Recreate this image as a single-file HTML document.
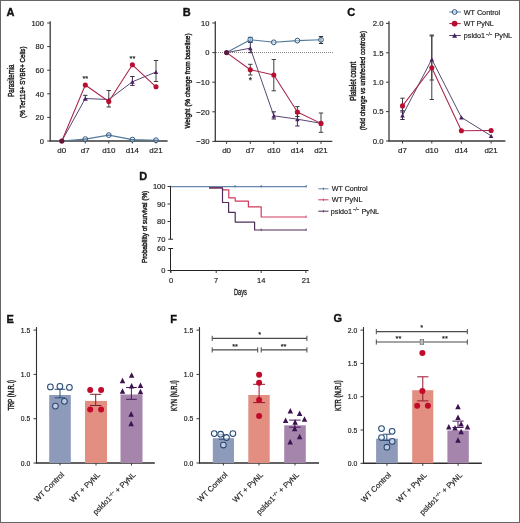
<!DOCTYPE html>
<html><head><meta charset="utf-8"><style>
html,body{margin:0;padding:0;background:#fff;}
body{width:520px;height:523px;overflow:hidden;position:relative;}
svg{display:block;font-family:"Liberation Sans", sans-serif;filter:blur(0.25px);}
.frame{position:absolute;left:0;top:0;width:518px;height:521px;border:1px solid #666;}
text{stroke:#1a1a1a;stroke-width:0.16px;}
</style></head><body>
<svg width="520" height="523" viewBox="0 0 520 523">
<rect x="0" y="0" width="520" height="523" fill="#fff"/>
<text x="6.6" y="15.8" font-size="11" text-anchor="start" font-weight="bold" fill="#111" style="stroke:#111;stroke-width:0.35px">A</text>
<line x1="50.2" y1="21.2" x2="50.2" y2="141.6" stroke="#3a3a3a" stroke-width="1.3" />
<line x1="49.6" y1="141" x2="167.6" y2="141" stroke="#3a3a3a" stroke-width="1.3" />
<line x1="47.2" y1="141.0" x2="50.2" y2="141.0" stroke="#3a3a3a" stroke-width="1" />
<text x="44" y="143.7" font-size="7.8" text-anchor="end" font-weight="normal" fill="#1a1a1a" textLength="4.2" lengthAdjust="spacingAndGlyphs" >0</text>
<line x1="47.2" y1="117.4" x2="50.2" y2="117.4" stroke="#3a3a3a" stroke-width="1" />
<text x="44" y="120.10000000000001" font-size="7.8" text-anchor="end" font-weight="normal" fill="#1a1a1a" textLength="8.4" lengthAdjust="spacingAndGlyphs" >20</text>
<line x1="47.2" y1="93.80000000000001" x2="50.2" y2="93.80000000000001" stroke="#3a3a3a" stroke-width="1" />
<text x="44" y="96.50000000000001" font-size="7.8" text-anchor="end" font-weight="normal" fill="#1a1a1a" textLength="8.4" lengthAdjust="spacingAndGlyphs" >40</text>
<line x1="47.2" y1="70.2" x2="50.2" y2="70.2" stroke="#3a3a3a" stroke-width="1" />
<text x="44" y="72.9" font-size="7.8" text-anchor="end" font-weight="normal" fill="#1a1a1a" textLength="8.4" lengthAdjust="spacingAndGlyphs" >60</text>
<line x1="47.2" y1="46.60000000000001" x2="50.2" y2="46.60000000000001" stroke="#3a3a3a" stroke-width="1" />
<text x="44" y="49.30000000000001" font-size="7.8" text-anchor="end" font-weight="normal" fill="#1a1a1a" textLength="8.4" lengthAdjust="spacingAndGlyphs" >80</text>
<line x1="47.2" y1="23.0" x2="50.2" y2="23.0" stroke="#3a3a3a" stroke-width="1" />
<text x="44" y="25.7" font-size="7.8" text-anchor="end" font-weight="normal" fill="#1a1a1a" textLength="12.600000000000001" lengthAdjust="spacingAndGlyphs" >100</text>
<line x1="61.8" y1="141" x2="61.8" y2="143.5" stroke="#3a3a3a" stroke-width="1" />
<text x="61.8" y="153.1" font-size="8" text-anchor="middle" font-weight="normal" fill="#1a1a1a" textLength="8.9" lengthAdjust="spacingAndGlyphs" >d0</text>
<line x1="85.3" y1="141" x2="85.3" y2="143.5" stroke="#3a3a3a" stroke-width="1" />
<text x="85.3" y="153.1" font-size="8" text-anchor="middle" font-weight="normal" fill="#1a1a1a" textLength="8.9" lengthAdjust="spacingAndGlyphs" >d7</text>
<line x1="108.8" y1="141" x2="108.8" y2="143.5" stroke="#3a3a3a" stroke-width="1" />
<text x="108.8" y="153.1" font-size="8" text-anchor="middle" font-weight="normal" fill="#1a1a1a" textLength="13.350000000000001" lengthAdjust="spacingAndGlyphs" >d10</text>
<line x1="132.4" y1="141" x2="132.4" y2="143.5" stroke="#3a3a3a" stroke-width="1" />
<text x="132.4" y="153.1" font-size="8" text-anchor="middle" font-weight="normal" fill="#1a1a1a" textLength="13.350000000000001" lengthAdjust="spacingAndGlyphs" >d14</text>
<line x1="156.0" y1="141" x2="156.0" y2="143.5" stroke="#3a3a3a" stroke-width="1" />
<text x="156.0" y="153.1" font-size="8" text-anchor="middle" font-weight="normal" fill="#1a1a1a" textLength="13.350000000000001" lengthAdjust="spacingAndGlyphs" >d21</text>
<text transform="translate(13.5,80.6) rotate(-90)" font-size="8.4" text-anchor="middle" fill="#1a1a1a" style="stroke:#1a1a1a;stroke-width:0.42px" textLength="32.2" lengthAdjust="spacingAndGlyphs">Parasitemia</text>
<text transform="translate(24.6,82.2) rotate(-90)" font-size="7.9" text-anchor="middle" fill="#1a1a1a" style="stroke:#1a1a1a;stroke-width:0.42px" textLength="71.5" lengthAdjust="spacingAndGlyphs">(% Ter119+ SYBR+ Cells)</text>
<polyline points="61.8,141 85.3,139.1 108.8,135.1 132.4,139.6 156.0,140.2" fill="none" stroke="#527a9a" stroke-width="1.1" stroke-linejoin="round"/>
<polyline points="61.8,141 85.3,98.5 108.8,99.5 132.4,81.8 156.0,72" fill="none" stroke="#584870" stroke-width="1.0" stroke-linejoin="round"/>
<polyline points="61.8,141 85.3,85 108.8,101.5 132.4,64.8 156.0,86.8" fill="none" stroke="#a8254a" stroke-width="1.05" stroke-linejoin="round"/>
<line x1="85.3" y1="95.3" x2="85.3" y2="100" stroke="#3a2a4a" stroke-width="1" />
<line x1="83.1" y1="95.3" x2="87.5" y2="95.3" stroke="#3a2a4a" stroke-width="1" />
<line x1="83.1" y1="100" x2="87.5" y2="100" stroke="#3a2a4a" stroke-width="1" />
<line x1="108.8" y1="90.5" x2="108.8" y2="107" stroke="#3e3e3e" stroke-width="1" />
<line x1="106.6" y1="90.5" x2="111.0" y2="90.5" stroke="#3e3e3e" stroke-width="1" />
<line x1="106.6" y1="107" x2="111.0" y2="107" stroke="#3e3e3e" stroke-width="1" />
<line x1="132.4" y1="76.5" x2="132.4" y2="85.4" stroke="#3a2a4a" stroke-width="1" />
<line x1="130.20000000000002" y1="76.5" x2="134.6" y2="76.5" stroke="#3a2a4a" stroke-width="1" />
<line x1="130.20000000000002" y1="85.4" x2="134.6" y2="85.4" stroke="#3a2a4a" stroke-width="1" />
<line x1="156.0" y1="60.5" x2="156.0" y2="81.5" stroke="#3e3e3e" stroke-width="1" />
<line x1="153.8" y1="60.5" x2="158.2" y2="60.5" stroke="#3e3e3e" stroke-width="1" />
<line x1="153.8" y1="81.5" x2="158.2" y2="81.5" stroke="#3e3e3e" stroke-width="1" />
<circle cx="85.3" cy="139.1" r="2.4" fill="rgba(220,235,250,0.5)" stroke="#34587f" stroke-width="1"/>
<line x1="83.1" y1="139.1" x2="87.5" y2="139.1" stroke="#34587f" stroke-width="0.8" />
<circle cx="108.8" cy="135.1" r="2.4" fill="rgba(220,235,250,0.5)" stroke="#34587f" stroke-width="1"/>
<line x1="106.6" y1="135.1" x2="111.0" y2="135.1" stroke="#34587f" stroke-width="0.8" />
<circle cx="132.4" cy="139.6" r="2.4" fill="rgba(220,235,250,0.5)" stroke="#34587f" stroke-width="1"/>
<line x1="130.20000000000002" y1="139.6" x2="134.6" y2="139.6" stroke="#34587f" stroke-width="0.8" />
<circle cx="156.0" cy="140.2" r="2.4" fill="rgba(220,235,250,0.5)" stroke="#34587f" stroke-width="1"/>
<line x1="153.8" y1="140.2" x2="158.2" y2="140.2" stroke="#34587f" stroke-width="0.8" />
<path d="M83.05,100.57 L87.55,100.57 L85.30,96.43 Z" fill="#4a1f63"/>
<path d="M106.55,101.57 L111.05,101.57 L108.80,97.43 Z" fill="#4a1f63"/>
<path d="M130.15,83.87 L134.65,83.87 L132.40,79.73 Z" fill="#4a1f63"/>
<path d="M153.75,74.07 L158.25,74.07 L156.00,69.93 Z" fill="#4a1f63"/>
<circle cx="85.3" cy="85" r="2.55" fill="#b80e30" stroke="none" stroke-width="1"/>
<circle cx="108.8" cy="101.5" r="2.55" fill="#b80e30" stroke="none" stroke-width="1"/>
<circle cx="132.4" cy="64.8" r="2.55" fill="#b80e30" stroke="none" stroke-width="1"/>
<circle cx="156.0" cy="86.8" r="2.55" fill="#b80e30" stroke="none" stroke-width="1"/>
<circle cx="61.8" cy="141" r="2.6" fill="#6a1038" stroke="none" stroke-width="1"/>
<text x="85.3" y="81.4" font-size="7.4" text-anchor="middle" font-weight="normal" fill="#222" >**</text>
<text x="132.4" y="60.9" font-size="7.4" text-anchor="middle" font-weight="normal" fill="#222" >**</text>
<text x="182.8" y="15.8" font-size="11" text-anchor="start" font-weight="bold" fill="#111" style="stroke:#111;stroke-width:0.35px">B</text>
<line x1="215.3" y1="21.2" x2="215.3" y2="142" stroke="#3a3a3a" stroke-width="1.3" />
<line x1="214.70000000000002" y1="141.4" x2="332.3" y2="141.4" stroke="#3a3a3a" stroke-width="1.3" />
<line x1="212.3" y1="23.0" x2="215.3" y2="23.0" stroke="#3a3a3a" stroke-width="1" />
<text x="209.5" y="25.7" font-size="7.8" text-anchor="end" font-weight="normal" fill="#1a1a1a" textLength="8.4" lengthAdjust="spacingAndGlyphs" >10</text>
<line x1="212.3" y1="52.6" x2="215.3" y2="52.6" stroke="#3a3a3a" stroke-width="1" />
<text x="209.5" y="55.300000000000004" font-size="7.8" text-anchor="end" font-weight="normal" fill="#1a1a1a" textLength="4.2" lengthAdjust="spacingAndGlyphs" >0</text>
<line x1="212.3" y1="82.2" x2="215.3" y2="82.2" stroke="#3a3a3a" stroke-width="1" />
<text x="209.5" y="84.9" font-size="7.8" text-anchor="end" font-weight="normal" fill="#1a1a1a" textLength="13.200000000000001" lengthAdjust="spacingAndGlyphs" >−10</text>
<line x1="212.3" y1="111.80000000000001" x2="215.3" y2="111.80000000000001" stroke="#3a3a3a" stroke-width="1" />
<text x="209.5" y="114.50000000000001" font-size="7.8" text-anchor="end" font-weight="normal" fill="#1a1a1a" textLength="13.200000000000001" lengthAdjust="spacingAndGlyphs" >−20</text>
<line x1="212.3" y1="141.4" x2="215.3" y2="141.4" stroke="#3a3a3a" stroke-width="1" />
<text x="209.5" y="144.1" font-size="7.8" text-anchor="end" font-weight="normal" fill="#1a1a1a" textLength="13.200000000000001" lengthAdjust="spacingAndGlyphs" >−30</text>
<line x1="226.6" y1="141.4" x2="226.6" y2="143.9" stroke="#3a3a3a" stroke-width="1" />
<text x="226.6" y="153.2" font-size="8" text-anchor="middle" font-weight="normal" fill="#1a1a1a" textLength="8.9" lengthAdjust="spacingAndGlyphs" >d0</text>
<line x1="250.3" y1="141.4" x2="250.3" y2="143.9" stroke="#3a3a3a" stroke-width="1" />
<text x="250.3" y="153.2" font-size="8" text-anchor="middle" font-weight="normal" fill="#1a1a1a" textLength="8.9" lengthAdjust="spacingAndGlyphs" >d7</text>
<line x1="273.8" y1="141.4" x2="273.8" y2="143.9" stroke="#3a3a3a" stroke-width="1" />
<text x="273.8" y="153.2" font-size="8" text-anchor="middle" font-weight="normal" fill="#1a1a1a" textLength="13.350000000000001" lengthAdjust="spacingAndGlyphs" >d10</text>
<line x1="297.4" y1="141.4" x2="297.4" y2="143.9" stroke="#3a3a3a" stroke-width="1" />
<text x="297.4" y="153.2" font-size="8" text-anchor="middle" font-weight="normal" fill="#1a1a1a" textLength="13.350000000000001" lengthAdjust="spacingAndGlyphs" >d14</text>
<line x1="321.0" y1="141.4" x2="321.0" y2="143.9" stroke="#3a3a3a" stroke-width="1" />
<text x="321.0" y="153.2" font-size="8" text-anchor="middle" font-weight="normal" fill="#1a1a1a" textLength="13.350000000000001" lengthAdjust="spacingAndGlyphs" >d21</text>
<line x1="216" y1="52.5" x2="333" y2="52.5" stroke="#888" stroke-width="1" stroke-dasharray="1 1" shape-rendering="crispEdges"/>
<text transform="translate(189.5,81.0) rotate(-90)" font-size="7.9" text-anchor="middle" fill="#1a1a1a" style="stroke:#1a1a1a;stroke-width:0.42px" textLength="95.2" lengthAdjust="spacingAndGlyphs">Weight (% change from baseline)</text>
<polyline points="226.6,52.6 250.3,39.7 273.8,42.3 297.4,40.6 321.0,39.8" fill="none" stroke="#527a9a" stroke-width="1.1" stroke-linejoin="round"/>
<polyline points="226.6,52.6 250.3,48.2 273.8,115.8 297.4,119.2 321.0,123.3" fill="none" stroke="#584870" stroke-width="1.0" stroke-linejoin="round"/>
<polyline points="226.6,52.6 250.3,69.7 273.8,75 297.4,112 321.0,123.4" fill="none" stroke="#a8254a" stroke-width="1.05" stroke-linejoin="round"/>
<line x1="250.3" y1="64.3" x2="250.3" y2="75" stroke="#3e3e3e" stroke-width="1" />
<line x1="248.10000000000002" y1="64.3" x2="252.5" y2="64.3" stroke="#3e3e3e" stroke-width="1" />
<line x1="248.10000000000002" y1="75" x2="252.5" y2="75" stroke="#3e3e3e" stroke-width="1" />
<line x1="273.8" y1="59.5" x2="273.8" y2="90.8" stroke="#3e3e3e" stroke-width="1" />
<line x1="271.6" y1="59.5" x2="276.0" y2="59.5" stroke="#3e3e3e" stroke-width="1" />
<line x1="271.6" y1="90.8" x2="276.0" y2="90.8" stroke="#3e3e3e" stroke-width="1" />
<line x1="297.4" y1="106.6" x2="297.4" y2="116.5" stroke="#3e3e3e" stroke-width="1" />
<line x1="295.2" y1="106.6" x2="299.59999999999997" y2="106.6" stroke="#3e3e3e" stroke-width="1" />
<line x1="295.2" y1="116.5" x2="299.59999999999997" y2="116.5" stroke="#3e3e3e" stroke-width="1" />
<line x1="321.0" y1="113" x2="321.0" y2="132.3" stroke="#3e3e3e" stroke-width="1" />
<line x1="318.8" y1="113" x2="323.2" y2="113" stroke="#3e3e3e" stroke-width="1" />
<line x1="318.8" y1="132.3" x2="323.2" y2="132.3" stroke="#3e3e3e" stroke-width="1" />
<line x1="273.8" y1="111.8" x2="273.8" y2="119" stroke="#3a2a4a" stroke-width="1" />
<line x1="271.6" y1="111.8" x2="276.0" y2="111.8" stroke="#3a2a4a" stroke-width="1" />
<line x1="271.6" y1="119" x2="276.0" y2="119" stroke="#3a2a4a" stroke-width="1" />
<line x1="297.4" y1="113.5" x2="297.4" y2="126" stroke="#3a2a4a" stroke-width="1" />
<line x1="295.2" y1="113.5" x2="299.59999999999997" y2="113.5" stroke="#3a2a4a" stroke-width="1" />
<line x1="295.2" y1="126" x2="299.59999999999997" y2="126" stroke="#3a2a4a" stroke-width="1" />
<line x1="321.0" y1="36.5" x2="321.0" y2="43.5" stroke="#333" stroke-width="1" />
<line x1="318.8" y1="36.5" x2="323.2" y2="36.5" stroke="#333" stroke-width="1" />
<line x1="318.8" y1="43.5" x2="323.2" y2="43.5" stroke="#333" stroke-width="1" />
<line x1="250.3" y1="42.5" x2="250.3" y2="52.7" stroke="#3a2a4a" stroke-width="1" />
<line x1="248.10000000000002" y1="42.5" x2="252.5" y2="42.5" stroke="#3a2a4a" stroke-width="1" />
<line x1="248.10000000000002" y1="52.7" x2="252.5" y2="52.7" stroke="#3a2a4a" stroke-width="1" />
<line x1="250.3" y1="37.3" x2="250.3" y2="42.0" stroke="#34587f" stroke-width="1" />
<line x1="247.8" y1="37.3" x2="252.8" y2="37.3" stroke="#34587f" stroke-width="1" />
<line x1="247.8" y1="42.0" x2="252.8" y2="42.0" stroke="#34587f" stroke-width="1" />
<circle cx="250.3" cy="39.7" r="2.4" fill="rgba(220,235,250,0.5)" stroke="#34587f" stroke-width="1"/>
<circle cx="273.8" cy="42.3" r="2.4" fill="rgba(220,235,250,0.5)" stroke="#34587f" stroke-width="1"/>
<circle cx="297.4" cy="40.6" r="2.4" fill="rgba(220,235,250,0.5)" stroke="#34587f" stroke-width="1"/>
<circle cx="321.0" cy="39.8" r="2.4" fill="rgba(220,235,250,0.5)" stroke="#34587f" stroke-width="1"/>
<path d="M248.05,50.27 L252.55,50.27 L250.30,46.13 Z" fill="#4a1f63"/>
<path d="M271.55,117.87 L276.05,117.87 L273.80,113.73 Z" fill="#4a1f63"/>
<path d="M295.15,121.27 L299.65,121.27 L297.40,117.13 Z" fill="#4a1f63"/>
<path d="M318.75,125.37 L323.25,125.37 L321.00,121.23 Z" fill="#4a1f63"/>
<circle cx="250.3" cy="69.7" r="2.55" fill="#b80e30" stroke="none" stroke-width="1"/>
<circle cx="273.8" cy="75" r="2.55" fill="#b80e30" stroke="none" stroke-width="1"/>
<circle cx="297.4" cy="112" r="2.55" fill="#b80e30" stroke="none" stroke-width="1"/>
<circle cx="321.0" cy="123.4" r="2.55" fill="#b80e30" stroke="none" stroke-width="1"/>
<circle cx="226.6" cy="52.6" r="2.6" fill="#5a1a40" stroke="none" stroke-width="1"/>
<text x="250.3" y="83.2" font-size="8.5" text-anchor="middle" font-weight="normal" fill="#222" >*</text>
<text x="347.2" y="16" font-size="11" text-anchor="start" font-weight="bold" fill="#111" style="stroke:#111;stroke-width:0.35px">C</text>
<line x1="389" y1="21.2" x2="389" y2="141.6" stroke="#3a3a3a" stroke-width="1.3" />
<line x1="388.4" y1="141" x2="505.4" y2="141" stroke="#3a3a3a" stroke-width="1.3" />
<line x1="386" y1="141.0" x2="389" y2="141.0" stroke="#3a3a3a" stroke-width="1" />
<text x="383.5" y="143.7" font-size="7.8" text-anchor="end" font-weight="normal" fill="#1a1a1a" textLength="10.8" lengthAdjust="spacingAndGlyphs" >0.0</text>
<line x1="386" y1="111.6" x2="389" y2="111.6" stroke="#3a3a3a" stroke-width="1" />
<text x="383.5" y="114.3" font-size="7.8" text-anchor="end" font-weight="normal" fill="#1a1a1a" textLength="10.8" lengthAdjust="spacingAndGlyphs" >0.5</text>
<line x1="386" y1="82.2" x2="389" y2="82.2" stroke="#3a3a3a" stroke-width="1" />
<text x="383.5" y="84.9" font-size="7.8" text-anchor="end" font-weight="normal" fill="#1a1a1a" textLength="10.8" lengthAdjust="spacingAndGlyphs" >1.0</text>
<line x1="386" y1="52.80000000000001" x2="389" y2="52.80000000000001" stroke="#3a3a3a" stroke-width="1" />
<text x="383.5" y="55.500000000000014" font-size="7.8" text-anchor="end" font-weight="normal" fill="#1a1a1a" textLength="10.8" lengthAdjust="spacingAndGlyphs" >1.5</text>
<line x1="386" y1="23.400000000000006" x2="389" y2="23.400000000000006" stroke="#3a3a3a" stroke-width="1" />
<text x="383.5" y="26.100000000000005" font-size="7.8" text-anchor="end" font-weight="normal" fill="#1a1a1a" textLength="10.8" lengthAdjust="spacingAndGlyphs" >2.0</text>
<line x1="402.5" y1="141" x2="402.5" y2="143.5" stroke="#3a3a3a" stroke-width="1" />
<text x="402.5" y="153.1" font-size="8" text-anchor="middle" font-weight="normal" fill="#1a1a1a" textLength="8.9" lengthAdjust="spacingAndGlyphs" >d7</text>
<line x1="431.8" y1="141" x2="431.8" y2="143.5" stroke="#3a3a3a" stroke-width="1" />
<text x="431.8" y="153.1" font-size="8" text-anchor="middle" font-weight="normal" fill="#1a1a1a" textLength="13.350000000000001" lengthAdjust="spacingAndGlyphs" >d10</text>
<line x1="461.4" y1="141" x2="461.4" y2="143.5" stroke="#3a3a3a" stroke-width="1" />
<text x="461.4" y="153.1" font-size="8" text-anchor="middle" font-weight="normal" fill="#1a1a1a" textLength="13.350000000000001" lengthAdjust="spacingAndGlyphs" >d14</text>
<line x1="491.1" y1="141" x2="491.1" y2="143.5" stroke="#3a3a3a" stroke-width="1" />
<text x="491.1" y="153.1" font-size="8" text-anchor="middle" font-weight="normal" fill="#1a1a1a" textLength="13.350000000000001" lengthAdjust="spacingAndGlyphs" >d21</text>
<text transform="translate(355.5,81.3) rotate(-90)" font-size="8.4" text-anchor="middle" fill="#1a1a1a" style="stroke:#1a1a1a;stroke-width:0.42px" textLength="39" lengthAdjust="spacingAndGlyphs">Platelet count</text>
<text transform="translate(364.5,80.6) rotate(-90)" font-size="7.8" text-anchor="middle" fill="#1a1a1a" style="stroke:#1a1a1a;stroke-width:0.42px" textLength="99.4" lengthAdjust="spacingAndGlyphs">(fold change vs uninfected controls)</text>
<polyline points="402.5,115.4 431.8,59.3 461.4,117.4 491.1,135.8" fill="none" stroke="#584870" stroke-width="1.0" stroke-linejoin="round"/>
<polyline points="402.5,105.9 431.8,67.7 461.4,130.8 491.1,130.5" fill="none" stroke="#a8254a" stroke-width="1.05" stroke-linejoin="round"/>
<line x1="402.5" y1="98.2" x2="402.5" y2="112" stroke="#3e3e3e" stroke-width="1" />
<line x1="400.3" y1="98.2" x2="404.7" y2="98.2" stroke="#3e3e3e" stroke-width="1" />
<line x1="400.3" y1="112" x2="404.7" y2="112" stroke="#3e3e3e" stroke-width="1" />
<line x1="402.5" y1="110.7" x2="402.5" y2="119.5" stroke="#3a2a4a" stroke-width="1" />
<line x1="400.3" y1="110.7" x2="404.7" y2="110.7" stroke="#3a2a4a" stroke-width="1" />
<line x1="400.3" y1="119.5" x2="404.7" y2="119.5" stroke="#3a2a4a" stroke-width="1" />
<line x1="431.8" y1="35" x2="431.8" y2="80" stroke="#3e3e3e" stroke-width="1" />
<line x1="429.6" y1="35" x2="434.0" y2="35" stroke="#3e3e3e" stroke-width="1" />
<line x1="429.6" y1="80" x2="434.0" y2="80" stroke="#3e3e3e" stroke-width="1" />
<line x1="431.8" y1="36" x2="431.8" y2="99.5" stroke="#3a3a4a" stroke-width="1" />
<line x1="429.6" y1="36" x2="434.0" y2="36" stroke="#3a3a4a" stroke-width="1" />
<line x1="429.6" y1="99.5" x2="434.0" y2="99.5" stroke="#3a3a4a" stroke-width="1" />
<path d="M400.20,117.52 L404.80,117.52 L402.50,113.28 Z" fill="#4a1f63"/>
<path d="M429.50,61.42 L434.10,61.42 L431.80,57.18 Z" fill="#4a1f63"/>
<path d="M459.10,119.52 L463.70,119.52 L461.40,115.28 Z" fill="#4a1f63"/>
<path d="M488.80,137.92 L493.40,137.92 L491.10,133.68 Z" fill="#4a1f63"/>
<circle cx="402.5" cy="105.9" r="2.55" fill="#b80e30" stroke="none" stroke-width="1"/>
<circle cx="431.8" cy="67.7" r="2.55" fill="#b80e30" stroke="none" stroke-width="1"/>
<circle cx="461.4" cy="130.8" r="2.55" fill="#b80e30" stroke="none" stroke-width="1"/>
<circle cx="491.1" cy="130.5" r="2.55" fill="#b80e30" stroke="none" stroke-width="1"/>
<line x1="449.2" y1="12" x2="460.8" y2="12" stroke="#527a9a" stroke-width="1" />
<circle cx="454.6" cy="12" r="2.4" fill="rgba(220,235,250,0.5)" stroke="#34587f" stroke-width="1"/>
<text x="463.8" y="14.6" font-size="7.2" text-anchor="start" font-weight="normal" fill="#222" textLength="36.4" lengthAdjust="spacingAndGlyphs" >WT Control</text>
<line x1="449.2" y1="23.6" x2="460.8" y2="23.6" stroke="#a8254a" stroke-width="1" />
<circle cx="454.6" cy="23.6" r="2.9" fill="#b80e30" stroke="none" stroke-width="1"/>
<text x="463.8" y="26.2" font-size="7.2" text-anchor="start" font-weight="normal" fill="#222" textLength="30" lengthAdjust="spacingAndGlyphs" >WT PyNL</text>
<line x1="449.2" y1="35.5" x2="460.8" y2="35.5" stroke="#584870" stroke-width="1" />
<path d="M452.10,37.67 L457.10,37.67 L454.60,32.92 Z" fill="#4a1f63"/>
<text x="463.8" y="38.1" font-size="7.2" fill="#222">psldo1<tspan font-size="4.6" dy="-2.6"> −/−</tspan><tspan dy="2.6"> PyNL</tspan></text>
<text x="139.3" y="179.6" font-size="11" text-anchor="start" font-weight="bold" fill="#111" style="stroke:#111;stroke-width:0.35px">D</text>
<line x1="170.5" y1="185.8" x2="170.5" y2="239.2" stroke="#222" stroke-width="1.0" />
<line x1="168.3" y1="239.2" x2="173.1" y2="239.2" stroke="#222" stroke-width="1" />
<line x1="170.5" y1="248.5" x2="170.5" y2="272.5" stroke="#222" stroke-width="1.0" />
<line x1="168.3" y1="248.5" x2="173.1" y2="248.5" stroke="#222" stroke-width="1" />
<line x1="169.9" y1="270.5" x2="308.5" y2="270.5" stroke="#222" stroke-width="1.1" />
<line x1="167.5" y1="186.5" x2="170.5" y2="186.5" stroke="#3a3a3a" stroke-width="1" />
<text x="165.5" y="189.2" font-size="7.8" text-anchor="end" font-weight="normal" fill="#1a1a1a" textLength="12.600000000000001" lengthAdjust="spacingAndGlyphs" >100</text>
<line x1="167.5" y1="204.0" x2="170.5" y2="204.0" stroke="#3a3a3a" stroke-width="1" />
<text x="165.5" y="206.7" font-size="7.8" text-anchor="end" font-weight="normal" fill="#1a1a1a" textLength="8.4" lengthAdjust="spacingAndGlyphs" >90</text>
<line x1="167.5" y1="221.5" x2="170.5" y2="221.5" stroke="#3a3a3a" stroke-width="1" />
<text x="165.5" y="224.2" font-size="7.8" text-anchor="end" font-weight="normal" fill="#1a1a1a" textLength="8.4" lengthAdjust="spacingAndGlyphs" >80</text>
<text x="165.5" y="241.9" font-size="7.8" text-anchor="end" font-weight="normal" fill="#1a1a1a" textLength="8.4" lengthAdjust="spacingAndGlyphs" >70</text>
<text x="165.5" y="251.2" font-size="7.8" text-anchor="end" font-weight="normal" fill="#1a1a1a" textLength="8.4" lengthAdjust="spacingAndGlyphs" >60</text>
<line x1="167.5" y1="270.5" x2="170.5" y2="270.5" stroke="#3a3a3a" stroke-width="1" />
<text x="165.5" y="273.2" font-size="7.8" text-anchor="end" font-weight="normal" fill="#1a1a1a" textLength="4.2" lengthAdjust="spacingAndGlyphs" >0</text>
<line x1="171" y1="270.5" x2="171" y2="273" stroke="#3a3a3a" stroke-width="1" />
<text x="171" y="283.3" font-size="7.8" text-anchor="middle" font-weight="normal" fill="#1a1a1a" textLength="4.2" lengthAdjust="spacingAndGlyphs" >0</text>
<line x1="216.2" y1="270.5" x2="216.2" y2="273" stroke="#3a3a3a" stroke-width="1" />
<text x="216.2" y="283.3" font-size="7.8" text-anchor="middle" font-weight="normal" fill="#1a1a1a" textLength="4.2" lengthAdjust="spacingAndGlyphs" >7</text>
<line x1="261.2" y1="270.5" x2="261.2" y2="273" stroke="#3a3a3a" stroke-width="1" />
<text x="261.2" y="283.3" font-size="7.8" text-anchor="middle" font-weight="normal" fill="#1a1a1a" textLength="8.4" lengthAdjust="spacingAndGlyphs" >14</text>
<line x1="305.9" y1="270.5" x2="305.9" y2="273" stroke="#3a3a3a" stroke-width="1" />
<text x="305.9" y="283.3" font-size="7.8" text-anchor="middle" font-weight="normal" fill="#1a1a1a" textLength="8.4" lengthAdjust="spacingAndGlyphs" >21</text>
<text x="240.4" y="295.4" font-size="8.8" text-anchor="middle" font-weight="normal" fill="#1a1a1a" textLength="13" lengthAdjust="spacingAndGlyphs" style="stroke:#1a1a1a;stroke-width:0.3px">Days</text>
<text transform="translate(146.8,226.9) rotate(-90)" font-size="7.6" text-anchor="middle" fill="#1a1a1a" style="stroke:#1a1a1a;stroke-width:0.42px" textLength="72.3" lengthAdjust="spacingAndGlyphs">Probability of survival (%)</text>
<polyline points="171,186.6 306.2,186.6" fill="none" stroke="#6689ab" stroke-width="1.2" stroke-linejoin="round"/>
<polyline points="209,187.8 222.5,187.8 222.5,189.8 228.8,189.8 228.8,197.9 235.2,197.9 235.2,201.1 248.4,201.1 248.4,206.9 261.2,206.9 261.2,217 306.2,217" fill="none" stroke="#d03a5c" stroke-width="1.2" stroke-linejoin="round"/>
<polyline points="209,187.8 222.5,187.8 222.5,202.5 228.6,202.5 228.6,212.3 235.2,212.3 235.2,222.1 254.6,222.1 254.6,230 306.2,230" fill="none" stroke="#4f2d5a" stroke-width="1.2" stroke-linejoin="round"/>
<line x1="235" y1="185" x2="235" y2="187.5" stroke="#3a5a7a" stroke-width="0.8" />
<line x1="261.2" y1="185" x2="261.2" y2="187.5" stroke="#3a5a7a" stroke-width="0.8" />
<line x1="306.2" y1="185" x2="306.2" y2="187.5" stroke="#3a5a7a" stroke-width="0.8" />
<line x1="261.2" y1="228.5" x2="261.2" y2="231" stroke="#4f2d5a" stroke-width="0.8" />
<line x1="306.2" y1="228.5" x2="306.2" y2="231" stroke="#4f2d5a" stroke-width="0.8" />
<line x1="306.2" y1="215.5" x2="306.2" y2="218" stroke="#d03a5c" stroke-width="0.8" />
<line x1="318.3" y1="188.8" x2="328.5" y2="188.8" stroke="#6689ab" stroke-width="1" />
<line x1="323.4" y1="187.6" x2="323.4" y2="190" stroke="#3a5a7a" stroke-width="0.8" />
<text x="331.7" y="191.3" font-size="7.2" text-anchor="start" font-weight="normal" fill="#222" textLength="36" lengthAdjust="spacingAndGlyphs" >WT Control</text>
<line x1="318.3" y1="199.8" x2="328.5" y2="199.8" stroke="#d03a5c" stroke-width="1" />
<line x1="323.4" y1="198.6" x2="323.4" y2="201" stroke="#d03a5c" stroke-width="0.8" />
<text x="331.7" y="202.3" font-size="7.2" text-anchor="start" font-weight="normal" fill="#222" textLength="30.8" lengthAdjust="spacingAndGlyphs" >WT PyNL</text>
<line x1="318.3" y1="211.2" x2="328.5" y2="211.2" stroke="#4f2d5a" stroke-width="1" />
<line x1="323.4" y1="210" x2="323.4" y2="212.4" stroke="#4f2d5a" stroke-width="0.8" />
<text x="330.8" y="213.7" font-size="7.2" fill="#222">psldo1<tspan font-size="4.6" dy="-2.6"> −/−</tspan><tspan dy="2.6"> PyNL</tspan></text>
<text x="6.6" y="323.2" font-size="11" text-anchor="start" font-weight="bold" fill="#111" style="stroke:#111;stroke-width:0.35px">E</text>
<line x1="36.5" y1="327.1" x2="36.5" y2="463.6" stroke="#2e2e2e" stroke-width="1.1" />
<line x1="35.9" y1="463" x2="154.8" y2="463" stroke="#2e2e2e" stroke-width="1.4" />
<line x1="33.5" y1="463.0" x2="36.5" y2="463.0" stroke="#3a3a3a" stroke-width="1" />
<text x="30.3" y="465.6" font-size="6.8" text-anchor="end" font-weight="normal" fill="#222" >0.0</text>
<line x1="33.5" y1="418.7" x2="36.5" y2="418.7" stroke="#3a3a3a" stroke-width="1" />
<text x="30.3" y="421.3" font-size="6.8" text-anchor="end" font-weight="normal" fill="#222" >0.5</text>
<line x1="33.5" y1="374.4" x2="36.5" y2="374.4" stroke="#3a3a3a" stroke-width="1" />
<text x="30.3" y="377.0" font-size="6.8" text-anchor="end" font-weight="normal" fill="#222" >1.0</text>
<line x1="33.5" y1="330.1" x2="36.5" y2="330.1" stroke="#3a3a3a" stroke-width="1" />
<text x="30.3" y="332.70000000000005" font-size="6.8" text-anchor="end" font-weight="normal" fill="#222" >1.5</text>
<text transform="translate(13.5,395.3) rotate(-90)" font-size="8.6" text-anchor="middle" fill="#1a1a1a" style="stroke:#1a1a1a;stroke-width:0.42px" textLength="30.6" lengthAdjust="spacingAndGlyphs">TRP (N.R.I)</text>
<rect x="49.2" y="395" width="21.599999999999994" height="68" fill="#8d9aba"/>
<line x1="60.0" y1="463" x2="60.0" y2="465.5" stroke="#3a3a3a" stroke-width="1" />
<rect x="85" y="400.9" width="22" height="62.10000000000002" fill="#e28e80"/>
<line x1="96.0" y1="463" x2="96.0" y2="465.5" stroke="#3a3a3a" stroke-width="1" />
<rect x="120.5" y="394.5" width="22.0" height="68.5" fill="#a585ac"/>
<line x1="131.5" y1="463" x2="131.5" y2="465.5" stroke="#3a3a3a" stroke-width="1" />
<text transform="translate(64.60,475.20) rotate(-45)" font-size="7.7" text-anchor="end" fill="#1a1a1a">WT Control</text>
<text transform="translate(100.60,475.20) rotate(-45)" font-size="7.7" text-anchor="end" fill="#1a1a1a">WT + PyNL</text>
<text transform="translate(136.10,475.20) rotate(-45)" font-size="7.7" text-anchor="end" fill="#1a1a1a">psldo1<tspan font-size="4.4" dy="-2.8">−/−</tspan><tspan dy="2.8"> + PyNL</tspan></text>
<line x1="60" y1="389.3" x2="60" y2="397.8" stroke="#2d4d7a" stroke-width="1" />
<line x1="54.7" y1="389.3" x2="65.3" y2="389.3" stroke="#2d4d7a" stroke-width="1" />
<line x1="54.7" y1="397.8" x2="65.3" y2="397.8" stroke="#2d4d7a" stroke-width="1" />
<circle cx="50.4" cy="386.9" r="2.85" fill="rgba(236,246,255,0.55)" stroke="#2b4a72" stroke-width="1.05"/>
<circle cx="59.9" cy="386.4" r="2.85" fill="rgba(236,246,255,0.55)" stroke="#2b4a72" stroke-width="1.05"/>
<circle cx="69.4" cy="387.4" r="2.85" fill="rgba(236,246,255,0.55)" stroke="#2b4a72" stroke-width="1.05"/>
<circle cx="64.4" cy="401.3" r="2.85" fill="rgba(236,246,255,0.55)" stroke="#2b4a72" stroke-width="1.05"/>
<circle cx="55.4" cy="406.1" r="2.85" fill="rgba(236,246,255,0.55)" stroke="#2b4a72" stroke-width="1.05"/>
<line x1="95.7" y1="394.3" x2="95.7" y2="405.5" stroke="#7a2030" stroke-width="1" />
<line x1="90.10000000000001" y1="394.3" x2="101.3" y2="394.3" stroke="#7a2030" stroke-width="1" />
<line x1="90.10000000000001" y1="405.5" x2="101.3" y2="405.5" stroke="#7a2030" stroke-width="1" />
<circle cx="90.2" cy="389.9" r="3.0" fill="#c20a2a" stroke="none" stroke-width="1"/>
<circle cx="101.1" cy="389.9" r="3.0" fill="#c20a2a" stroke="none" stroke-width="1"/>
<circle cx="90.2" cy="409.5" r="3.0" fill="#c20a2a" stroke="none" stroke-width="1"/>
<circle cx="101.1" cy="409.5" r="3.0" fill="#c20a2a" stroke="none" stroke-width="1"/>
<line x1="131.4" y1="387.5" x2="131.4" y2="399.3" stroke="#4a1a5e" stroke-width="1" />
<line x1="126.0" y1="387.5" x2="136.8" y2="387.5" stroke="#4a1a5e" stroke-width="1" />
<line x1="126.0" y1="399.3" x2="136.8" y2="399.3" stroke="#4a1a5e" stroke-width="1" />
<path d="M128.85,377.65 L134.35,377.65 L131.60,372.15 Z" fill="#3d1250"/>
<path d="M119.75,383.35 L125.25,383.35 L122.50,377.85 Z" fill="#3d1250"/>
<path d="M128.85,388.55 L134.35,388.55 L131.60,383.05 Z" fill="#3d1250"/>
<path d="M137.75,387.95 L143.25,387.95 L140.50,382.45 Z" fill="#3d1250"/>
<path d="M119.75,393.65 L125.25,393.65 L122.50,388.15 Z" fill="#3d1250"/>
<path d="M137.75,394.25 L143.25,394.25 L140.50,388.75 Z" fill="#3d1250"/>
<path d="M128.35,416.65 L133.85,416.65 L131.10,411.15 Z" fill="#3d1250"/>
<path d="M128.35,426.15 L133.85,426.15 L131.10,420.65 Z" fill="#3d1250"/>
<text x="170.2" y="323.2" font-size="11" text-anchor="start" font-weight="bold" fill="#111" style="stroke:#111;stroke-width:0.35px">F</text>
<line x1="199.5" y1="327.1" x2="199.5" y2="463.6" stroke="#2e2e2e" stroke-width="1.1" />
<line x1="198.9" y1="463" x2="319" y2="463" stroke="#2e2e2e" stroke-width="1.4" />
<line x1="196.5" y1="463.0" x2="199.5" y2="463.0" stroke="#3a3a3a" stroke-width="1" />
<text x="193.3" y="465.6" font-size="6.8" text-anchor="end" font-weight="normal" fill="#222" >0.0</text>
<line x1="196.5" y1="418.7" x2="199.5" y2="418.7" stroke="#3a3a3a" stroke-width="1" />
<text x="193.3" y="421.3" font-size="6.8" text-anchor="end" font-weight="normal" fill="#222" >0.5</text>
<line x1="196.5" y1="374.4" x2="199.5" y2="374.4" stroke="#3a3a3a" stroke-width="1" />
<text x="193.3" y="377.0" font-size="6.8" text-anchor="end" font-weight="normal" fill="#222" >1.0</text>
<line x1="196.5" y1="330.1" x2="199.5" y2="330.1" stroke="#3a3a3a" stroke-width="1" />
<text x="193.3" y="332.70000000000005" font-size="6.8" text-anchor="end" font-weight="normal" fill="#222" >1.5</text>
<text transform="translate(177.2,395.6) rotate(-90)" font-size="8.6" text-anchor="middle" fill="#1a1a1a" style="stroke:#1a1a1a;stroke-width:0.42px" textLength="30.6" lengthAdjust="spacingAndGlyphs">KYN (N.R.I)</text>
<rect x="212.8" y="438.2" width="21.19999999999999" height="24.80000000000001" fill="#8d9aba"/>
<line x1="223.4" y1="463" x2="223.4" y2="465.5" stroke="#3a3a3a" stroke-width="1" />
<rect x="248.3" y="395" width="21.399999999999977" height="68" fill="#e28e80"/>
<line x1="259.0" y1="463" x2="259.0" y2="465.5" stroke="#3a3a3a" stroke-width="1" />
<rect x="284.2" y="425.3" width="21.600000000000023" height="37.69999999999999" fill="#a585ac"/>
<line x1="295.0" y1="463" x2="295.0" y2="465.5" stroke="#3a3a3a" stroke-width="1" />
<text transform="translate(228.00,475.20) rotate(-45)" font-size="7.7" text-anchor="end" fill="#1a1a1a">WT Control</text>
<text transform="translate(263.60,475.20) rotate(-45)" font-size="7.7" text-anchor="end" fill="#1a1a1a">WT + PyNL</text>
<text transform="translate(299.60,475.20) rotate(-45)" font-size="7.7" text-anchor="end" fill="#1a1a1a">psldo1<tspan font-size="4.4" dy="-2.8">−/−</tspan><tspan dy="2.8"> + PyNL</tspan></text>
<line x1="212.2" y1="338.4" x2="306.9" y2="338.4" stroke="#4a4a4a" stroke-width="1.2" />
<line x1="212.2" y1="335.79999999999995" x2="212.2" y2="341.0" stroke="#4a4a4a" stroke-width="1" />
<line x1="306.9" y1="335.79999999999995" x2="306.9" y2="341.0" stroke="#4a4a4a" stroke-width="1" />
<line x1="212.2" y1="349.9" x2="257.7" y2="349.9" stroke="#4a4a4a" stroke-width="1.2" />
<line x1="212.2" y1="347.29999999999995" x2="212.2" y2="352.5" stroke="#4a4a4a" stroke-width="1" />
<line x1="257.7" y1="347.29999999999995" x2="257.7" y2="352.5" stroke="#4a4a4a" stroke-width="1" />
<line x1="261.2" y1="349.9" x2="306.9" y2="349.9" stroke="#4a4a4a" stroke-width="1.2" />
<line x1="261.2" y1="347.29999999999995" x2="261.2" y2="352.5" stroke="#4a4a4a" stroke-width="1" />
<line x1="306.9" y1="347.29999999999995" x2="306.9" y2="352.5" stroke="#4a4a4a" stroke-width="1" />
<text x="259.6" y="337.3" font-size="7.4" text-anchor="middle" font-weight="normal" fill="#111" >*</text>
<text x="235.1" y="348.8" font-size="7.4" text-anchor="middle" font-weight="normal" fill="#111" >**</text>
<text x="283.6" y="348.8" font-size="7.4" text-anchor="middle" font-weight="normal" fill="#111" >**</text>
<line x1="223.5" y1="434.8" x2="223.5" y2="439.2" stroke="#2d4d7a" stroke-width="1" />
<line x1="218.8" y1="434.8" x2="228.2" y2="434.8" stroke="#2d4d7a" stroke-width="1" />
<line x1="218.8" y1="439.2" x2="228.2" y2="439.2" stroke="#2d4d7a" stroke-width="1" />
<circle cx="214.2" cy="433.6" r="2.85" fill="rgba(236,246,255,0.55)" stroke="#2b4a72" stroke-width="1.05"/>
<circle cx="220.6" cy="434.2" r="2.85" fill="rgba(236,246,255,0.55)" stroke="#2b4a72" stroke-width="1.05"/>
<circle cx="226.5" cy="437.6" r="2.85" fill="rgba(236,246,255,0.55)" stroke="#2b4a72" stroke-width="1.05"/>
<circle cx="232.9" cy="433.6" r="2.85" fill="rgba(236,246,255,0.55)" stroke="#2b4a72" stroke-width="1.05"/>
<circle cx="223.4" cy="445" r="2.85" fill="rgba(236,246,255,0.55)" stroke="#2b4a72" stroke-width="1.05"/>
<line x1="259.1" y1="384.3" x2="259.1" y2="402.6" stroke="#9a1530" stroke-width="1" />
<line x1="253.10000000000002" y1="384.3" x2="265.1" y2="384.3" stroke="#9a1530" stroke-width="1" />
<line x1="253.10000000000002" y1="402.6" x2="265.1" y2="402.6" stroke="#9a1530" stroke-width="1" />
<circle cx="259.1" cy="374.7" r="3.0" fill="#c20a2a" stroke="none" stroke-width="1"/>
<circle cx="259.1" cy="382.8" r="3.0" fill="#c20a2a" stroke="none" stroke-width="1"/>
<circle cx="259.1" cy="400" r="3.0" fill="#c20a2a" stroke="none" stroke-width="1"/>
<circle cx="259.1" cy="416" r="3.0" fill="#c20a2a" stroke="none" stroke-width="1"/>
<line x1="294.9" y1="420.1" x2="294.9" y2="427.2" stroke="#4a1a5e" stroke-width="1" />
<line x1="289.09999999999997" y1="420.1" x2="300.7" y2="420.1" stroke="#4a1a5e" stroke-width="1" />
<line x1="289.09999999999997" y1="427.2" x2="300.7" y2="427.2" stroke="#4a1a5e" stroke-width="1" />
<path d="M287.55,413.45 L293.05,413.45 L290.30,407.95 Z" fill="#3d1250"/>
<path d="M296.85,416.05 L302.35,416.05 L299.60,410.55 Z" fill="#3d1250"/>
<path d="M282.85,422.95 L288.35,422.95 L285.60,417.45 Z" fill="#3d1250"/>
<path d="M301.75,421.65 L307.25,421.65 L304.50,416.15 Z" fill="#3d1250"/>
<path d="M292.35,424.65 L297.85,424.65 L295.10,419.15 Z" fill="#3d1250"/>
<path d="M291.95,431.15 L297.45,431.15 L294.70,425.65 Z" fill="#3d1250"/>
<path d="M296.85,439.35 L302.35,439.35 L299.60,433.85 Z" fill="#3d1250"/>
<path d="M287.45,444.45 L292.95,444.45 L290.20,438.95 Z" fill="#3d1250"/>
<text x="333.4" y="322.4" font-size="11" text-anchor="start" font-weight="bold" fill="#111" style="stroke:#111;stroke-width:0.35px">G</text>
<line x1="363.5" y1="327.1" x2="363.5" y2="463.90000000000003" stroke="#2e2e2e" stroke-width="1.1" />
<line x1="362.9" y1="463.3" x2="481.8" y2="463.3" stroke="#2e2e2e" stroke-width="1.4" />
<line x1="360.5" y1="463.3" x2="363.5" y2="463.3" stroke="#3a3a3a" stroke-width="1" />
<text x="357.3" y="465.90000000000003" font-size="6.8" text-anchor="end" font-weight="normal" fill="#222" >0.0</text>
<line x1="360.5" y1="430.0" x2="363.5" y2="430.0" stroke="#3a3a3a" stroke-width="1" />
<text x="357.3" y="432.6" font-size="6.8" text-anchor="end" font-weight="normal" fill="#222" >0.5</text>
<line x1="360.5" y1="396.70000000000005" x2="363.5" y2="396.70000000000005" stroke="#3a3a3a" stroke-width="1" />
<text x="357.3" y="399.30000000000007" font-size="6.8" text-anchor="end" font-weight="normal" fill="#222" >1.0</text>
<line x1="360.5" y1="363.40000000000003" x2="363.5" y2="363.40000000000003" stroke="#3a3a3a" stroke-width="1" />
<text x="357.3" y="366.00000000000006" font-size="6.8" text-anchor="end" font-weight="normal" fill="#222" >1.5</text>
<line x1="360.5" y1="330.1" x2="363.5" y2="330.1" stroke="#3a3a3a" stroke-width="1" />
<text x="357.3" y="332.70000000000005" font-size="6.8" text-anchor="end" font-weight="normal" fill="#222" >2.0</text>
<text transform="translate(341.3,395.6) rotate(-90)" font-size="8.6" text-anchor="middle" fill="#1a1a1a" style="stroke:#1a1a1a;stroke-width:0.42px" textLength="30.6" lengthAdjust="spacingAndGlyphs">KTR (N.R.I)</text>
<rect x="376.1" y="438.7" width="21.69999999999999" height="24.600000000000023" fill="#8d9aba"/>
<line x1="386.95000000000005" y1="463.3" x2="386.95000000000005" y2="465.8" stroke="#3a3a3a" stroke-width="1" />
<rect x="412.2" y="390.2" width="21.100000000000023" height="73.10000000000002" fill="#e28e80"/>
<line x1="422.75" y1="463.3" x2="422.75" y2="465.8" stroke="#3a3a3a" stroke-width="1" />
<rect x="447.4" y="430.5" width="21.400000000000034" height="32.80000000000001" fill="#a585ac"/>
<line x1="458.1" y1="463.3" x2="458.1" y2="465.8" stroke="#3a3a3a" stroke-width="1" />
<text transform="translate(391.55,475.50) rotate(-45)" font-size="7.7" text-anchor="end" fill="#1a1a1a">WT Control</text>
<text transform="translate(427.35,475.50) rotate(-45)" font-size="7.7" text-anchor="end" fill="#1a1a1a">WT + PyNL</text>
<text transform="translate(462.70,475.50) rotate(-45)" font-size="7.7" text-anchor="end" fill="#1a1a1a">psldo1<tspan font-size="4.4" dy="-2.8">−/−</tspan><tspan dy="2.8"> + PyNL</tspan></text>
<line x1="376.3" y1="331.6" x2="467.3" y2="331.6" stroke="#4a4a4a" stroke-width="1.2" />
<line x1="376.3" y1="329.0" x2="376.3" y2="334.20000000000005" stroke="#4a4a4a" stroke-width="1" />
<line x1="467.3" y1="329.0" x2="467.3" y2="334.20000000000005" stroke="#4a4a4a" stroke-width="1" />
<line x1="376.3" y1="342.0" x2="420.5" y2="342.0" stroke="#4a4a4a" stroke-width="1.2" />
<line x1="376.3" y1="339.4" x2="376.3" y2="344.6" stroke="#4a4a4a" stroke-width="1" />
<line x1="420.5" y1="339.4" x2="420.5" y2="344.6" stroke="#4a4a4a" stroke-width="1" />
<line x1="423.5" y1="342.0" x2="467.3" y2="342.0" stroke="#4a4a4a" stroke-width="1.2" />
<line x1="423.5" y1="339.4" x2="423.5" y2="344.6" stroke="#4a4a4a" stroke-width="1" />
<line x1="467.3" y1="339.4" x2="467.3" y2="344.6" stroke="#4a4a4a" stroke-width="1" />
<rect x="420.1" y="339.6" width="3.6" height="5" fill="#bbb" stroke="#777" stroke-width="0.6"/>
<text x="421.8" y="330.3" font-size="7.4" text-anchor="middle" font-weight="normal" fill="#111" >*</text>
<text x="398.5" y="340.6" font-size="7.4" text-anchor="middle" font-weight="normal" fill="#111" >**</text>
<text x="445" y="340.6" font-size="7.4" text-anchor="middle" font-weight="normal" fill="#111" >**</text>
<line x1="386.8" y1="434.2" x2="386.8" y2="440.5" stroke="#2d4d7a" stroke-width="1" />
<line x1="383.0" y1="434.2" x2="390.6" y2="434.2" stroke="#2d4d7a" stroke-width="1" />
<line x1="383.0" y1="440.5" x2="390.6" y2="440.5" stroke="#2d4d7a" stroke-width="1" />
<circle cx="381.5" cy="428.6" r="2.85" fill="rgba(236,246,255,0.55)" stroke="#2b4a72" stroke-width="1.05"/>
<circle cx="392.1" cy="431.3" r="2.85" fill="rgba(236,246,255,0.55)" stroke="#2b4a72" stroke-width="1.05"/>
<circle cx="381.5" cy="437.5" r="2.85" fill="rgba(236,246,255,0.55)" stroke="#2b4a72" stroke-width="1.05"/>
<circle cx="392.2" cy="441.4" r="2.85" fill="rgba(236,246,255,0.55)" stroke="#2b4a72" stroke-width="1.05"/>
<circle cx="386.9" cy="447.2" r="2.85" fill="rgba(236,246,255,0.55)" stroke="#2b4a72" stroke-width="1.05"/>
<line x1="422.8" y1="376.8" x2="422.8" y2="400.9" stroke="#9a1530" stroke-width="1" />
<line x1="417.2" y1="376.8" x2="428.40000000000003" y2="376.8" stroke="#9a1530" stroke-width="1" />
<line x1="417.2" y1="400.9" x2="428.40000000000003" y2="400.9" stroke="#9a1530" stroke-width="1" />
<circle cx="422.4" cy="352.9" r="3.0" fill="#c20a2a" stroke="none" stroke-width="1"/>
<circle cx="422.4" cy="390.9" r="3.0" fill="#c20a2a" stroke="none" stroke-width="1"/>
<circle cx="417.2" cy="405.8" r="3.0" fill="#c20a2a" stroke="none" stroke-width="1"/>
<circle cx="427.9" cy="405.8" r="3.0" fill="#c20a2a" stroke="none" stroke-width="1"/>
<line x1="458" y1="421.1" x2="458" y2="427.5" stroke="#4a1a5e" stroke-width="1" />
<line x1="452.4" y1="421.1" x2="463.6" y2="421.1" stroke="#4a1a5e" stroke-width="1" />
<line x1="452.4" y1="427.5" x2="463.6" y2="427.5" stroke="#4a1a5e" stroke-width="1" />
<path d="M455.25,409.35 L460.75,409.35 L458.00,403.85 Z" fill="#3d1250"/>
<path d="M455.25,420.05 L460.75,420.05 L458.00,414.55 Z" fill="#3d1250"/>
<path d="M446.05,429.55 L451.55,429.55 L448.80,424.05 Z" fill="#3d1250"/>
<path d="M452.25,430.45 L457.75,430.45 L455.00,424.95 Z" fill="#3d1250"/>
<path d="M458.35,426.55 L463.85,426.55 L461.10,421.05 Z" fill="#3d1250"/>
<path d="M464.75,429.55 L470.25,429.55 L467.50,424.05 Z" fill="#3d1250"/>
<path d="M458.35,434.25 L463.85,434.25 L461.10,428.75 Z" fill="#3d1250"/>
<path d="M455.25,442.85 L460.75,442.85 L458.00,437.35 Z" fill="#3d1250"/>
</svg>
<div class="frame"></div>
</body></html>
